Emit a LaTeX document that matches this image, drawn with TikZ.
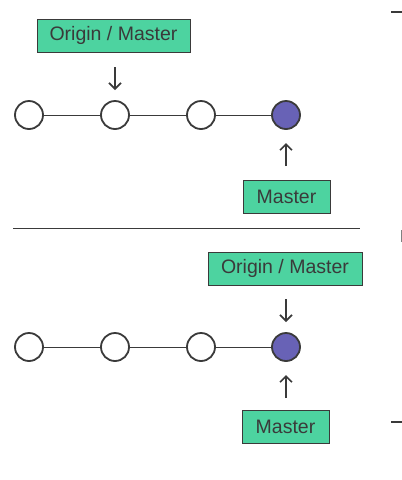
\documentclass[tikz,border=0pt]{standalone}
\usepackage{fontspec}
\setmainfont{Liberation Sans}
\usetikzlibrary{arrows.meta}
\definecolor{boxgreen}{HTML}{4DD3A0}
\definecolor{commitpurple}{HTML}{6862B6}
\definecolor{ink}{HTML}{3A3A3A}
\tikzset{
  commit/.style={circle, draw=ink, line width=1.8pt, fill=white, minimum size=28pt, inner sep=0pt},
  headcommit/.style={commit, fill=commitpurple},
  label/.style={draw=ink, line width=0.9pt, fill=boxgreen, text=ink, font=\fontsize{19.5}{22}\selectfont, inner sep=0pt, minimum height=33pt},
  link/.style={draw=ink, line width=1pt},
  pointer/.style={draw=ink, line width=1.6pt, -{Straight Barb[length=6pt,width=12pt,line width=1.6pt]}}
}
\begin{document}
\begin{tikzpicture}[x=1pt,y=-1pt]
\useasboundingbox (0,0) rectangle (402,480);
% top
\node[commit] (a1) at (29,115) {};
\node[commit] (a2) at (115,115) {};
\node[commit] (a3) at (201,115) {};
\node[headcommit] (a4) at (286,115) {};
\draw[link] (a1) -- (a2) -- (a3) -- (a4);
\node[label, minimum width=153pt] (ao) at (113.5,35.5) {Origin / Master};
\node[label, minimum width=87pt] (am) at (286.5,197) {Master};
\coordinate (ad1) at (115,67);
\coordinate (ad2) at (115,90);
\draw[pointer] (ad1) -- (ad2);
\coordinate (au1) at (286,166);
\coordinate (au2) at (286,143);
\draw[pointer] (au1) -- (au2);
% separator
\coordinate (s1) at (13,228);
\coordinate (s2) at (360,228);
\draw[ink, line width=1pt] (s1) -- (s2);
% bottom
\node[commit] (b1) at (29,347) {};
\node[commit] (b2) at (115,347) {};
\node[commit] (b3) at (201,347) {};
\node[headcommit] (b4) at (286,347) {};
\draw[link] (b1) -- (b2) -- (b3) -- (b4);
\node[label, minimum width=154pt] (bo) at (285,268.5) {Origin / Master};
\node[label, minimum width=87pt] (bm) at (285.5,427) {Master};
\coordinate (bd1) at (286,299);
\coordinate (bd2) at (286,322);
\draw[pointer] (bd1) -- (bd2);
\coordinate (bu1) at (286,398);
\coordinate (bu2) at (286,375);
\draw[pointer] (bu1) -- (bu2);
% edge marks
\coordinate (m1) at (391,12);
\coordinate (m2) at (402,12);
\draw[ink, line width=2pt] (m1) -- (m2);
\coordinate (m3) at (401,230);
\coordinate (m4) at (401,242);
\draw[gray, line width=1pt] (m3) -- (m4);
\coordinate (m5) at (391,422);
\coordinate (m6) at (402,422);
\draw[ink, line width=2pt] (m5) -- (m6);
\end{tikzpicture}
\end{document}
